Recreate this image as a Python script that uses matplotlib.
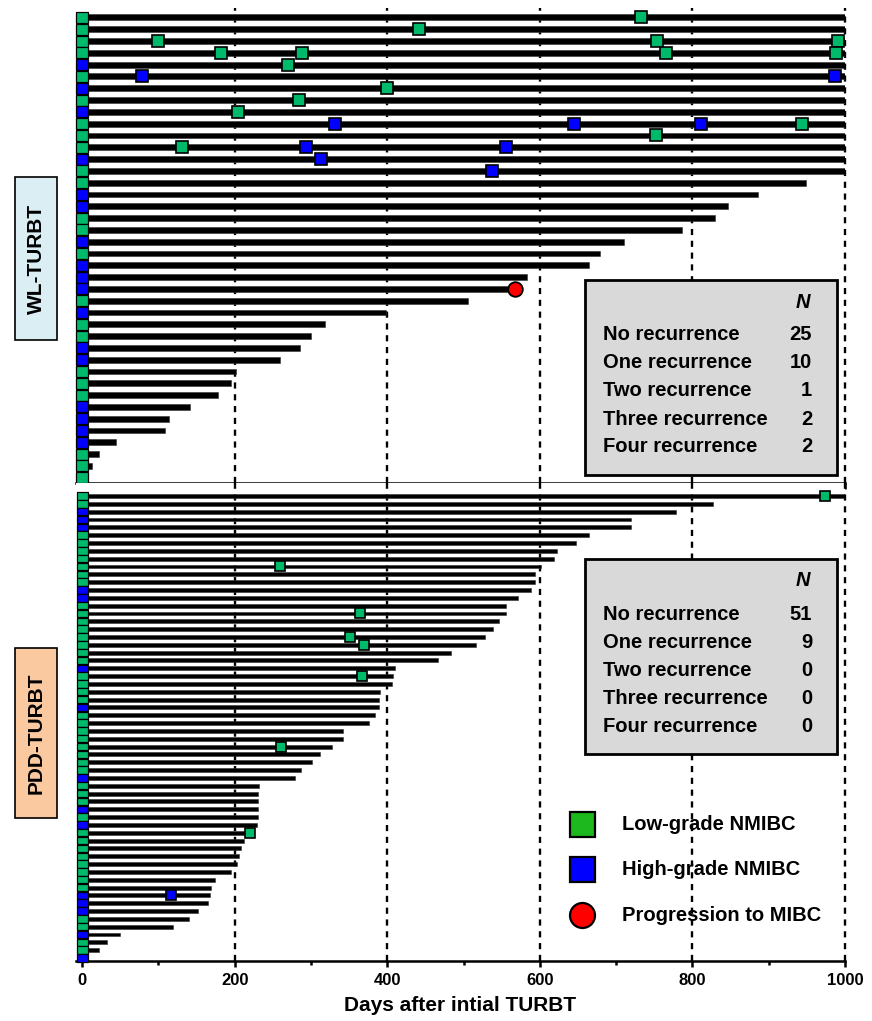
import matplotlib
matplotlib.use("Agg")
import matplotlib.pyplot as plt
from matplotlib.patches import Rectangle
from matplotlib.lines import Line2D

plt.rcParams['font.family'] = ['Liberation Sans', 'DejaVu Sans']
plt.rcParams['font.weight'] = 'bold'

# ---------------- data ----------------
# WL-TURBT cohort (top panel), one entry per patient, top to bottom
wl_days = [1000, 1000, 1000, 1000, 1000, 1000, 1000, 1000, 1000, 1000,
           1000, 1000, 1000, 1000, 949, 886, 847, 829, 786, 710,
           679, 664, 583, 568, 506, 399, 318, 300, 286, 260,
           202, 195, 178, 142, 114, 109, 45, 22, 13, 4]
wl_grade = ['L', 'L', 'L', 'L', 'H', 'L', 'H', 'L', 'H', 'L',
            'L', 'L', 'H', 'L', 'L', 'H', 'H', 'L', 'L', 'H',
            'L', 'H', 'H', 'H', 'L', 'H', 'L', 'L', 'H', 'H',
            'L', 'L', 'L', 'H', 'H', 'H', 'H', 'L', 'L', 'L']
# recurrences: patient index, day, grade
wl_rec_patient = [0, 1, 2, 2, 2, 3, 3, 3, 3, 4, 5, 5, 6, 7, 8,
                  9, 9, 9, 9, 10, 11, 11, 11, 12, 13]
wl_rec_day = [733, 442, 99, 753, 991, 182, 288, 766, 988, 270, 79, 987, 400, 284, 204,
              332, 645, 811, 943, 752, 131, 293, 556, 313, 537]
wl_rec_grade = ['L', 'L', 'L', 'L', 'L', 'L', 'L', 'L', 'L', 'L', 'H', 'H', 'L', 'L', 'L',
                'H', 'H', 'H', 'L', 'L', 'L', 'H', 'H', 'H', 'H']
wl_prog_patient = [23]
wl_prog_day = [568]

# PDD-TURBT cohort (bottom panel)
pdd_days = [1000, 827, 779, 720, 720, 665, 647, 622, 619, 602,
            594, 594, 589, 571, 555, 555, 547, 538, 528, 516,
            483, 467, 410, 407, 406, 391, 389, 389, 384, 376,
            342, 342, 328, 312, 301, 287, 279, 232, 231, 231,
            231, 231, 229, 222, 212, 208, 206, 203, 195, 174,
            169, 168, 165, 152, 140, 119, 50, 33, 22, 3]
pdd_grade = ['L', 'L', 'H', 'H', 'H', 'L', 'L', 'L', 'L', 'L',
             'L', 'L', 'H', 'H', 'L', 'L', 'L', 'L', 'L', 'L',
             'L', 'L', 'H', 'L', 'L', 'L', 'L', 'H', 'L', 'L',
             'L', 'L', 'L', 'L', 'L', 'L', 'H', 'L', 'L', 'L',
             'H', 'L', 'H', 'L', 'L', 'L', 'L', 'L', 'L', 'L',
             'L', 'H', 'H', 'H', 'L', 'L', 'H', 'L', 'L', 'H']
pdd_rec_patient = [0, 9, 15, 18, 19, 23, 32, 43, 51]
pdd_rec_day = [974, 260, 364, 351, 370, 367, 261, 220, 117]
pdd_rec_grade = ['L', 'L', 'L', 'L', 'L', 'L', 'L', 'L', 'H']

box_labels = ['No recurrence', 'One recurrence', 'Two recurrence',
              'Three recurrence', 'Four recurrence']
wl_counts = [25, 10, 1, 2, 2]
pdd_counts = [51, 9, 0, 0, 0]

legend_labels = ['Low-grade NMIBC', 'High-grade NMIBC', 'Progression to MIBC']
group_labels = ['WL-TURBT', 'PDD-TURBT']
x_ticks = [0, 200, 400, 600, 800, 1000]
x_label = 'Days after intial TURBT'

# ---------------- style ----------------
GREEN = '#00BA6C'
GREEN_LEG = '#1DB81D'
BLUE = '#0000FF'
RED = '#FF0000'
col = {'L': GREEN, 'H': BLUE}

W, H = 872, 1021
fig = plt.figure(figsize=(W / 100, H / 100), dpi=100)


def fx(px):
    return px / W


def fy(py):
    return 1 - py / H


L = fx(76)
AW = (845 - 76) / W
ax1 = fig.add_axes([L, fy(483), AW, (483 - 8) / H])
ax2 = fig.add_axes([L, fy(961), AW, (961 - 483) / H])


def draw_panel(ax, days, grades, rp, rd, rg, bar_h, sq_h, sq_w, rec_ms):
    n = len(days)
    rows = list(range(n))
    for xv in [200, 400, 600, 800, 1000]:
        ax.axvline(xv, color='black', lw=1.7, ls=(0, (2.6, 2.4)), zorder=0.5,
                   clip_on=False)
    ax.barh(rows, days, left=0, height=bar_h, color='black',
            edgecolor='#333333', lw=0.4, zorder=2)
    ax.barh(rows, [sq_w] * n, left=-sq_w / 2, height=sq_h,
            color=[col[g] for g in grades], edgecolor='black', lw=0.9,
            zorder=4, clip_on=False)
    for p, d, g in zip(rp, rd, rg):
        ax.plot([d], [p], marker='s', ms=rec_ms, mfc=col[g], mec='black',
                mew=1.2, ls='none', zorder=5, clip_on=False)
    ax.set_xlim(-8, 1000)
    for s in ['left', 'right', 'top']:
        ax.spines[s].set_visible(False)
    ax.spines['bottom'].set_linewidth(1.8)
    ax.set_yticks([])
    ax.set_xticks(x_ticks)
    ax.set_xticks([100, 300, 500, 700, 900], minor=True)
    ax.tick_params(axis='x', which='major', direction='out', length=4.5,
                   width=1.8, labelsize=12, pad=4)
    ax.tick_params(axis='x', which='minor', direction='out', length=3,
                   width=1.8)


draw_panel(ax1, wl_days, wl_grade, wl_rec_patient, wl_rec_day, wl_rec_grade,
           0.5, 0.93, 15.5, 9.2)
for p, d in zip(wl_prog_patient, wl_prog_day):
    ax1.plot([d], [p], marker='o', ms=10.5, mfc=RED, mec='black', mew=1.3,
             ls='none', zorder=6, clip_on=False)
ax1.set_ylim(39.45, -0.8)
ax1.tick_params(axis='x', labelbottom=False)

draw_panel(ax2, pdd_days, pdd_grade, pdd_rec_patient, pdd_rec_day, pdd_rec_grade,
           0.5, 0.95, 14.5, 7.6)
ax2.set_ylim(59.38, -1.66)
for lab in ax2.get_xticklabels():
    lab.set_fontweight('bold')
ax2.set_xlabel(x_label, fontsize=15, fontweight='bold', labelpad=6)

# ---------------- summary boxes ----------------
def summary_box(top, counts):
    fig.add_artist(Rectangle((fx(585), fy(top + 195)), (837 - 585) / W, 195 / H,
                             transform=fig.transFigure, facecolor='#D9D9D9',
                             edgecolor='black', lw=2.0, zorder=5))
    fig.text(fx(803), fy(top + 22), 'N', ha='center', va='center', fontsize=14.5,
             fontweight='bold', style='italic', zorder=6)
    for i, (lab, c) in enumerate(zip(box_labels, counts)):
        yy = top + 55 + 28 * i
        fig.text(fx(603), fy(yy), lab, ha='left', va='center', fontsize=14.5,
                 fontweight='bold', zorder=6)
        fig.text(fx(812), fy(yy), str(c), ha='right', va='center', fontsize=14.5,
                 fontweight='bold', zorder=6)


summary_box(280, wl_counts)
summary_box(559, pdd_counts)

# ---------------- legend ----------------
leg_y = [824, 869, 915]
leg_handles = [('s', GREEN_LEG), ('s', BLUE), ('o', RED)]
for (mk, c), yy, lab in zip(leg_handles, leg_y, legend_labels):
    fig.add_artist(Line2D([fx(582)], [fy(yy)], marker=mk, ms=18, mfc=c, mec='black',
                          mew=1.6, ls='none', transform=fig.transFigure, zorder=6))
    fig.text(fx(622), fy(yy), lab, ha='left', va='center', fontsize=14.5,
             fontweight='bold', zorder=6)

# ---------------- group labels ----------------
groups = [(177, 340, '#DAEEF3'), (648, 818, '#FAC9A0')]
for (y0, y1, fc), lab in zip(groups, group_labels):
    fig.add_artist(Rectangle((fx(15), fy(y1)), (57 - 15) / W, (y1 - y0) / H,
                             transform=fig.transFigure, facecolor=fc,
                             edgecolor='black', lw=1.2, zorder=5))
    fig.text(fx(36), fy((y0 + y1) / 2), lab, rotation=90, ha='center', va='center',
             fontsize=15, fontweight='bold', zorder=6)

fig.savefig('out.png', dpi=100)
